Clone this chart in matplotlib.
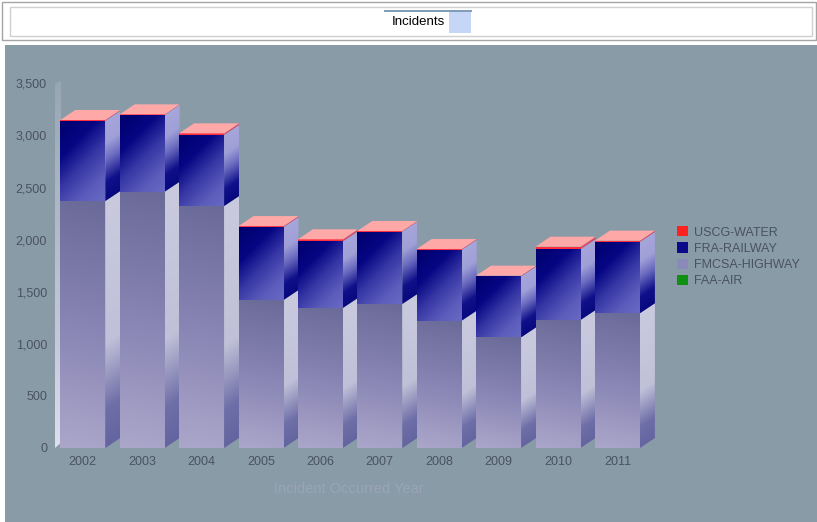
import numpy as np
import matplotlib
matplotlib.use("Agg")
import matplotlib.pyplot as plt
from matplotlib.patches import Polygon, Rectangle, Patch
from matplotlib.colors import to_rgb

plt.rcParams['font.family'] = ['Liberation Sans', 'DejaVu Sans']

# ---- data ----
years = ["2002", "2003", "2004", "2005", "2006", "2007", "2008", "2009", "2010", "2011"]
faa_air = [0, 0, 0, 0, 0, 0, 0, 0, 0, 0]
fmcsa_highway = [2370, 2460, 2322, 1420, 1344, 1382, 1222, 1062, 1228, 1293]
fra_railway = [770, 737, 683, 700, 640, 695, 680, 585, 680, 685]
uscg_water = [8, 5, 15, 10, 19, 6, 8, 7, 24, 12]
y_ticks = [0, 500, 1000, 1500, 2000, 2500, 3000, 3500]

# ---- geometry of the fake 3d look (pixels -> data units) ----
PX_X = 59.4      # pixels per category
PX_Y = 0.1042    # pixels per incident
BAR_W = 45 / PX_X
DX = 15 / PX_X
DY = 10 / PX_Y

BG = '#899ba7'
TEXT = '#4a5360'


def grad_face(ax, verts, stops, direction, z):
    verts = np.asarray(verts, float)
    poly = Polygon(verts, closed=True, fc='none', ec='none', zorder=z)
    ax.add_patch(poly)
    x0, y0 = verts.min(0)
    x1, y1 = verts.max(0)
    xs = np.linspace(x0, x1, 40)
    ys = np.linspace(y0, y1, 160)
    X, Y = np.meshgrid((xs - x0) * PX_X, (ys - y0) * PX_Y)
    d = np.array(direction, float)
    d /= np.hypot(*d)
    T = X * d[0] + Y * d[1]
    tv = (verts[:, 0] - x0) * PX_X * d[0] + (verts[:, 1] - y0) * PX_Y * d[1]
    T = np.clip((T - tv.min()) / (tv.max() - tv.min() + 1e-9), 0, 1)
    pos = [s[0] for s in stops]
    cols = np.array([to_rgb(s[1]) for s in stops])
    img = np.stack([np.interp(T, pos, cols[:, k]) for k in range(3)], axis=-1)
    im = ax.imshow(img, extent=(x0, x1, y0, y1), origin='lower', aspect='auto',
                   interpolation='bilinear', zorder=z)
    im.set_clip_path(poly)


styles = {
    'air': dict(front=[(0, '#0a7a0a'), (1, '#30b030')], fdir=(0, 1),
                side=[(0, '#075507'), (1, '#40a040')]),
    'highway': dict(front=[(0, '#aba7ca'), (0.5, '#8884b4'), (1, '#6a6a98')], fdir=(0.2, 1),
                    side=[(0, '#6464a0'), (0.15, '#6e6ea8'), (0.42, '#c0c0d8'), (1, '#cacadf')]),
    'railway': dict(front=[(0, '#00006c'), (0.3, '#060684'), (0.55, '#3838a6'),
                           (0.8, '#5c5cbc'), (1, '#6868c4')], fdir=(1, -1),
                    side=[(0, '#08087e'), (0.22, '#10108a'), (0.5, '#6a6ac0'),
                          (0.72, '#a0a0d8'), (1, '#a6a6da')]),
    'water': dict(front=[(0, '#ff2a3a'), (1, '#ff3a48')], fdir=(0, 1),
                  side=[(0, '#d04060'), (1, '#e86070')]),
}

fig = plt.figure(figsize=(8.17, 5.22), dpi=100)

# ---- page chrome: header strip and grey panel ----
bg = fig.add_axes([0, 0, 1, 1], zorder=0)
bg.set_xlim(0, 817)
bg.set_ylim(522, 0)
bg.axis('off')
bg.add_patch(Rectangle((5, 45), 812, 477, fc=BG, ec='none'))
bg.add_patch(Rectangle((2, 2), 814, 38, fc='white', ec='#a4a4a4', lw=1))
bg.add_patch(Rectangle((10, 7), 802, 29, fc='none', ec='#cfcfcf', lw=1))
bg.plot([385, 471], [11, 11], color='#7f9bb5', lw=1.4)
bg.add_patch(Rectangle((449, 12), 22, 21, fc='#c6d6f6', ec='none'))
bg.text(418, 22, 'Incidents', ha='center', va='center', fontsize=9.5, color='black')
bg.text(349, 489, 'Incident Occurred Year', ha='center', va='center',
        fontsize=10.5, color='#9aa4b8')

# ---- chart ----
ax = fig.add_axes([54 / 817, (522 - 448) / 522, 616 / 817, (448 - 67.7) / 522], zorder=1)
ax.patch.set_alpha(0)
ax.set_xlim(-(82.8 - 54) / PX_X, (670 - 82.8) / PX_X)
ax.set_ylim(0, 3650)
ax.set_autoscale_on(False)

# left wall
xw0 = (55 - 82.8) / PX_X
xw1 = (61 - 82.8) / PX_X
grad_face(ax, [(xw0, 0), (xw1, 50), (xw1, 3520), (xw0, 3500)],
          [(0, '#dcdfee'), (0.3, '#c4c9da'), (1, '#98a6b4')], (0, 1), 1)

series = [('air', faa_air), ('highway', fmcsa_highway),
          ('railway', fra_railway), ('water', uscg_water)]

for i in range(len(years)):
    z = 2 + i
    base = 0.0
    xl, xr = i - BAR_W / 2, i + BAR_W / 2
    for key, vals in series:
        v = vals[i]
        if v <= 0:
            continue
        top = base + v
        st = styles[key]
        grad_face(ax, [(xl, base), (xr, base), (xr, top), (xl, top)], st['front'], st['fdir'], z)
        grad_face(ax, [(xr, base), (xr + DX, base + DY), (xr + DX, top + DY), (xr, top)],
                  st['side'], (-10, 15), z)
        base = top
    ax.add_patch(Polygon([(xl, base), (xl + DX, base + DY), (xr + DX, base + DY), (xr, base)],
                         closed=True, fc='#ffa8a8', ec='none', zorder=z))

ax.set_xticks(range(len(years)))
ax.set_xticklabels(years)
ax.set_yticks(y_ticks)
ax.set_yticklabels([f"{t:,}" for t in y_ticks])
ax.tick_params(axis='both', length=0, labelsize=9, labelcolor=TEXT)
ax.tick_params(axis='x', pad=6)
ax.tick_params(axis='y', pad=5)
for s in ax.spines.values():
    s.set_visible(False)

handles = [Patch(fc='#ff2020', ec='none'), Patch(fc='#0a0a8a', ec='none'),
           Patch(fc='#8a8aba', ec='none'), Patch(fc='#109010', ec='none')]
labels = ['USCG-WATER', 'FRA-RAILWAY', 'FMCSA-HIGHWAY', 'FAA-AIR']
ax.legend(handles, labels, loc='upper left', bbox_to_anchor=(677 / 817, 1 - 226 / 522),
          bbox_transform=fig.transFigure, frameon=False, fontsize=9, labelcolor=TEXT,
          handlelength=0.9, handleheight=0.9, handletextpad=0.45, labelspacing=0.3,
          borderpad=0, borderaxespad=0)

fig.savefig('out.png', dpi=100)
